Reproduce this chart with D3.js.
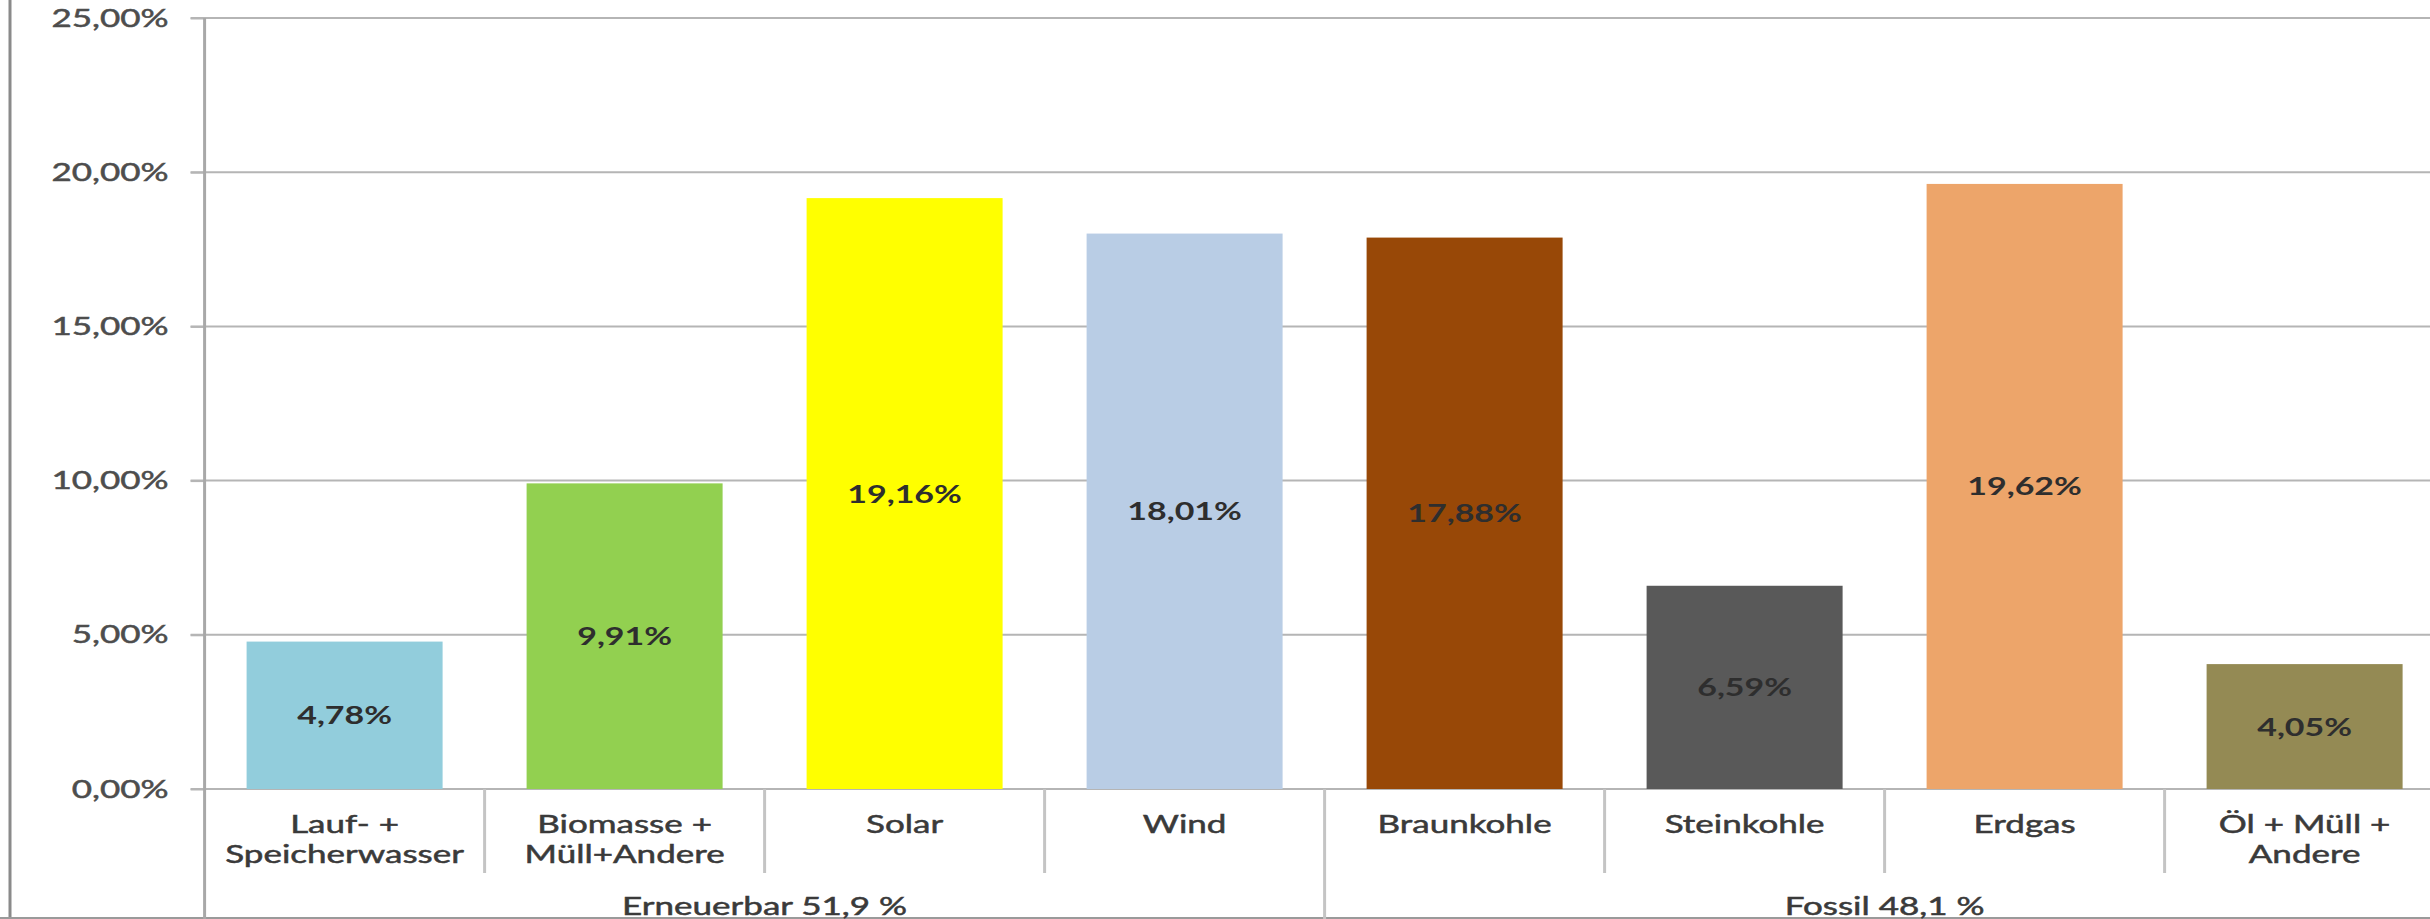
<!DOCTYPE html>
<html>
<head>
<meta charset="utf-8">
<script src="https://cdn.jsdelivr.net/npm/d3@7"></script>
<style>
  html, body { margin: 0; padding: 0; background: #ffffff; }
  svg { display: block; }
  text { font-family: Lato, "Open Sans", sans-serif; }
</style>
</head>
<body>
<svg id="chart" width="2430" height="919"></svg>
<script>
// Stromerzeugung nach Energieträger (Anteile in %)
const categories = [
  ["Lauf- +", "Speicherwasser"],
  ["Biomasse +", "Müll+Andere"],
  ["Solar"],
  ["Wind"],
  ["Braunkohle"],
  ["Steinkohle"],
  ["Erdgas"],
  ["Öl + Müll +", "Andere"]
];
const values = [4.78, 9.91, 19.16, 18.01, 17.88, 6.59, 19.62, 4.05];
const barColors = ["#92CDDC", "#92D050", "#FFFF00", "#B9CDE5", "#984807", "#595959", "#EDA56A", "#948A54"];
const groupNames = ["Erneuerbar 51,9 %", "Fossil 48,1 %"];
const groupSizes = [4, 4];
const yTicks = [0, 5, 10, 15, 20, 25];

// Layout
const W = 2430, H = 919;
const plotLeft = 204.6, plotRight = 2444.6;
const plotTop = 18, plotBottom = 789;
const SX = 1.4;          // horizontal stretch of all lettering
const FS = 25;           // font size

const deLocale = d3.formatLocale({ decimal: ",", thousands: ".", grouping: [3], currency: ["", " €"] });
const fmtPct = v => deLocale.format(".2f")(v) + "%";

const svg = d3.select("#chart");

const keys = categories.map((c, i) => "c" + i);
const x = d3.scaleBand().domain(keys).range([plotLeft, plotRight]).paddingInner(0.3).paddingOuter(0.15);
const y = d3.scaleLinear().domain([0, 25]).range([plotBottom, plotTop]);
const step = x.step();

// outer frame lines
svg.append("line").attr("x1", 10).attr("x2", 10).attr("y1", 0).attr("y2", H)
  .attr("stroke", "#8a8a8a").attr("stroke-width", 3);
svg.append("line").attr("x1", 0).attr("x2", W).attr("y1", 918).attr("y2", 918)
  .attr("stroke", "#9a9a9a").attr("stroke-width", 2);

// horizontal gridlines
svg.append("g").selectAll("line").data(yTicks).join("line")
  .attr("x1", plotLeft - 14).attr("x2", plotRight)
  .attr("y1", d => y(d)).attr("y2", d => y(d))
  .attr("stroke", "#b5b5b5").attr("stroke-width", 2);

// value axis
const yAxis = svg.append("g")
  .attr("transform", `translate(${plotLeft},0)`)
  .call(d3.axisLeft(y).tickValues(yTicks).tickFormat(fmtPct).tickSizeInner(14).tickSizeOuter(0).tickPadding(22));
yAxis.select(".domain").remove();
yAxis.selectAll(".tick line").attr("stroke", "#b5b5b5").attr("stroke-width", 2);
yAxis.selectAll(".tick text")
  .attr("x", -36 / SX)
  .attr("transform", `scale(${SX},1)`)
  .attr("font-size", FS)
  .attr("font-family", "Lato, 'Open Sans', sans-serif")
  .attr("fill", "#4d4d4d")
  .attr("stroke", "#4d4d4d")
  .attr("stroke-width", 0.5);

// vertical axis line
svg.append("line").attr("x1", plotLeft).attr("x2", plotLeft).attr("y1", plotTop).attr("y2", H)
  .attr("stroke", "#a8a8a8").attr("stroke-width", 3);

// bars
svg.append("g").selectAll("rect").data(values).join("rect")
  .attr("x", (d, i) => x(keys[i]))
  .attr("width", x.bandwidth())
  .attr("y", d => y(d))
  .attr("height", d => y(0) - y(d))
  .attr("fill", (d, i) => barColors[i]);

// value labels centred in each bar
svg.append("g").selectAll("text").data(values).join("text")
  .attr("transform", (d, i) => `translate(${x(keys[i]) + x.bandwidth() / 2},${(y(d) + y(0)) / 2}) scale(${SX * 0.97},1)`)
  .attr("text-anchor", "middle")
  .attr("dy", "0.36em")
  .attr("font-size", FS)
  .attr("font-weight", "bold")
  .attr("fill", "#2e2e2e")
  .text(d => fmtPct(d));

// category separators below the axis
const groupBounds = [];
let acc = 0;
groupSizes.forEach(s => { acc += s; groupBounds.push(acc); });
const seps = d3.range(1, categories.length);
svg.append("g").selectAll("line").data(seps).join("line")
  .attr("x1", i => plotLeft + step * i)
  .attr("x2", i => plotLeft + step * i)
  .attr("y1", plotBottom)
  .attr("y2", i => groupBounds.includes(i) ? H : 873)
  .attr("stroke", "#c4c4c4").attr("stroke-width", 3);

// category labels
const catG = svg.append("g").selectAll("g").data(categories).join("g")
  .attr("transform", (d, i) => `translate(${x(keys[i]) + x.bandwidth() / 2},0)`);
catG.selectAll("text").data(d => d).join("text")
  .attr("transform", (d, j) => `translate(0,${833 + j * 30}) scale(${SX},1)`)
  .attr("text-anchor", "middle")
  .attr("font-size", FS)
  .attr("fill", "#3a3a3a")
  .attr("stroke", "#3a3a3a")
  .attr("stroke-width", 0.5)
  .text(d => d);

// group labels
let start = 0;
const groupCenters = groupSizes.map(s => {
  const c = plotLeft + step * (start + s / 2);
  start += s;
  return c;
});
svg.append("g").selectAll("text").data(groupNames).join("text")
  .attr("transform", (d, i) => `translate(${groupCenters[i]},915) scale(${SX},1)`)
  .attr("text-anchor", "middle")
  .attr("font-size", FS)
  .attr("fill", "#3a3a3a")
  .attr("stroke", "#3a3a3a")
  .attr("stroke-width", 0.5)
  .text(d => d);
</script>
</body>
</html>
